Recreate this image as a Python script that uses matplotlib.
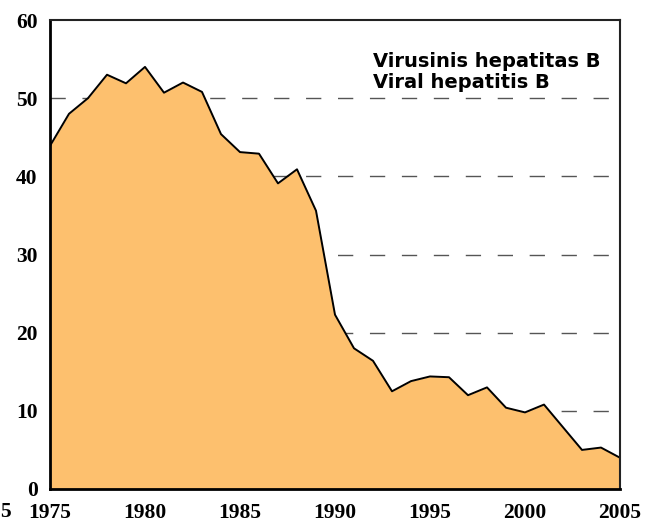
import numpy as np
import matplotlib
matplotlib.use("Agg")
import matplotlib.pyplot as plt

# yearly incidence
years = list(range(1975, 2006))
cases = [43.9, 48.0, 50.0, 53.0, 51.9, 54.0, 50.7, 52.0, 50.8, 45.4,
         43.1, 42.9, 39.1, 40.9, 35.6, 22.3, 18.0, 16.4, 12.5, 13.8,
         14.4, 14.3, 12.0, 13.0, 10.4, 9.8, 10.8, 7.9, 5.0, 5.3, 4.0]
x_ticks = [1975, 1980, 1985, 1990, 1995, 2000, 2005]
y_ticks = [0, 10, 20, 30, 40, 50, 60]
legend_lines = ["Virusinis hepatitas B", "Viral hepatitis B"]

FILL = "#FDC06E"
TICK_FONT = dict(family="Liberation Serif", weight="bold", size=15.5)

fig = plt.figure(figsize=(6.46, 5.22), dpi=100)
ax = fig.add_axes([50 / 646, 33 / 522, 570 / 646, 469 / 522])

# dashed grid at 10..50, hidden behind the area
for v in y_ticks[1:-1]:
    ax.axhline(v, color="#555555", linewidth=1.0, linestyle=(0, (11, 12)), zorder=0.5)

ax.fill_between(years, cases, 0, color=FILL, linewidth=0, zorder=1)
ax.plot(years, cases, color="black", linewidth=1.4, zorder=3)

ax.set_xlim(1975, 2005)
ax.set_ylim(0, 60)
ax.set_xticks(x_ticks)
ax.set_yticks(y_ticks)
ax.set_xticklabels([str(t) for t in x_ticks], fontdict=TICK_FONT)
ax.set_yticklabels([str(t) for t in y_ticks], fontdict=TICK_FONT)
ax.tick_params(axis="both", length=0)
ax.tick_params(axis="x", pad=10)
ax.tick_params(axis="y", pad=9)

for side in ["left", "bottom"]:
    ax.spines[side].set_linewidth(2.0)
    ax.spines[side].set_color("black")
for side in ["top", "right"]:
    ax.spines[side].set_linewidth(1.5)
    ax.spines[side].set_color("#222222")
for sp in ax.spines.values():
    sp.set_zorder(4)

# clipped leftover label at the far left in the original
fig.text(5 / 646, 1 - 512 / 522, "5", ha="center", va="center", **TICK_FONT)

fig.text(373 / 646, 1 - 67 / 522, legend_lines[0], ha="left", va="baseline",
         family="DejaVu Sans", weight="bold", size=14)
fig.text(373 / 646, 1 - 88.5 / 522, legend_lines[1], ha="left", va="baseline",
         family="DejaVu Sans", weight="bold", size=14)

fig.savefig("out.png", dpi=100, facecolor="white")
